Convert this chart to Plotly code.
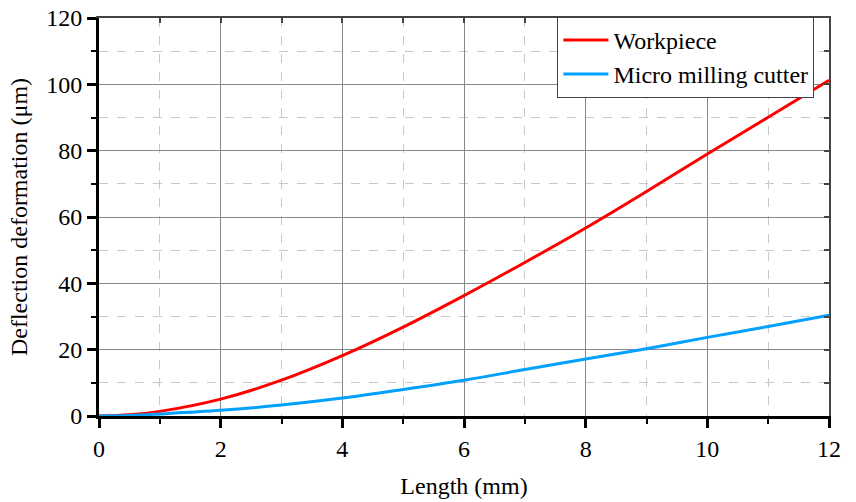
import plotly.graph_objects as go

length_mm = [0, 0.5, 1, 2, 3, 4, 5, 6, 7, 8, 9, 10, 11, 12]
workpiece = [0, 0.35, 1.4, 5.1, 10.8, 18.2, 26.8, 36.3, 46.3, 56.7, 67.7, 79.0, 90.1, 101.2]
cutter = [0, 0.15, 0.6, 1.7, 3.3, 5.4, 8.0, 10.8, 14.0, 17.2, 20.3, 23.7, 27.0, 30.4]

FONT = "Times New Roman, Liberation Serif, serif"
FS = 24

fig = go.Figure()
fig.add_trace(go.Scatter(x=length_mm, y=workpiece, mode="lines", name="Workpiece",
                         line=dict(color="#ff0000", width=3, shape="spline", smoothing=1)))
fig.add_trace(go.Scatter(x=length_mm, y=cutter, mode="lines", name="Micro milling cutter",
                         line=dict(color="#00a0ff", width=3, shape="spline", smoothing=1)))
# dummy trace for top/right frame axes
fig.add_trace(go.Scatter(x=[0], y=[0], xaxis="x2", yaxis="y2", mode="markers",
                         marker=dict(opacity=0), showlegend=False, hoverinfo="skip"))

fig.update_layout(
    width=856, height=502,
    margin=dict(l=99, r=27, t=18, b=86, autoexpand=False),
    paper_bgcolor="white", plot_bgcolor="white",
    font=dict(family=FONT, size=FS, color="black"),
    showlegend=True,
    legend=dict(x=0.98, y=1.003, xanchor="right", yanchor="top",
                bgcolor="white", bordercolor="#444", borderwidth=1,
                itemwidth=45,
                font=dict(family=FONT, size=FS), tracegroupgap=0),
    xaxis=dict(range=[0, 12], tickvals=[0, 2, 4, 6, 8, 10, 12], automargin=False,
               showline=True, linecolor="black", linewidth=3,
               ticks="outside", ticklen=9, tickwidth=3, tickcolor="black",
               showgrid=True, gridcolor="#888", gridwidth=1, zeroline=False,
               minor=dict(dtick=1, ticks="outside", ticklen=5, tickwidth=2, tickcolor="black",
                          showgrid=True, gridcolor="#c8c8c8", griddash="dash", gridwidth=1),
               title=dict(text="Length (mm)", font=dict(family=FONT, size=FS), standoff=17),
               tickfont=dict(family=FONT, size=FS)),
    yaxis=dict(range=[0, 120], tickvals=[0, 20, 40, 60, 80, 100, 120], automargin=False,
               showline=True, linecolor="black", linewidth=3,
               ticks="outside", ticklen=9, tickwidth=3, tickcolor="black",
               showgrid=True, gridcolor="#888", gridwidth=1, zeroline=False,
               minor=dict(dtick=10, ticks="outside", ticklen=5, tickwidth=2, tickcolor="black",
                          showgrid=True, gridcolor="#c8c8c8", griddash="dash", gridwidth=1),
               title=dict(text="Deflection deformation (μm)", font=dict(family=FONT, size=FS), standoff=12),
               tickfont=dict(family=FONT, size=FS)),
    xaxis2=dict(range=[0, 12], overlaying="x", side="top", showline=True, automargin=False,
                linecolor="#444", linewidth=2, ticks="inside", ticklen=5, tickwidth=2,
                tickcolor="#444", tickvals=[1, 2, 3, 4, 5, 6, 7, 8, 9, 10, 11],
                showticklabels=False, showgrid=False, zeroline=False),
    yaxis2=dict(range=[0, 120], overlaying="y", side="right", showline=True, automargin=False,
                linecolor="#444", linewidth=2, ticks="inside", ticklen=5, tickwidth=2,
                tickcolor="#444", tickvals=[10, 20, 30, 40, 50, 60, 70, 80, 90, 100, 110],
                showticklabels=False, showgrid=False, zeroline=False),
)

fig.write_html("out.html", config={"displayModeBar": False},
               post_script="document.body.style.margin='0';")
